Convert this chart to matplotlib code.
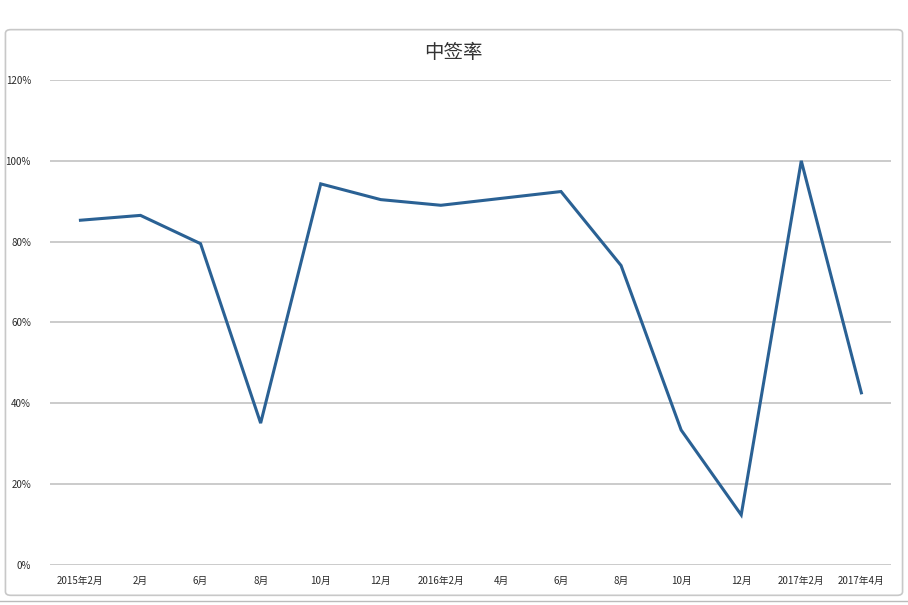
import matplotlib
matplotlib.use('agg')
import matplotlib.pyplot as plt
from matplotlib.patches import FancyBboxPatch
from matplotlib.ticker import PercentFormatter

plt.rcParams['font.family'] = ['Noto Sans CJK SC', 'DejaVu Sans']

# 数据
months = ['2015年2月', '2月', '6月', '8月', '10月', '12月', '2016年2月',
          '4月', '6月', '8月', '10月', '12月', '2017年2月', '2017年4月']
rate = [85.3, 86.5, 79.5, 35.1, 94.3, 90.4, 89.0,
        90.7, 92.4, 74.1, 33.4, 12.4, 100.0, 42.6]
y_ticks = [0, 20, 40, 60, 80, 100, 120]
title = '中签率'

fig = plt.figure(figsize=(9.08, 6.05), dpi=100)

# 外框
box = FancyBboxPatch((0.006, 0.016), 0.988, 0.935,
                     boxstyle='round,pad=0,rounding_size=0.006',
                     transform=fig.transFigure, fill=False,
                     edgecolor='#c8c8c8', linewidth=1.2)
fig.patches.append(box)
fig.add_artist(plt.Line2D([0.0, 1.0], [0.006, 0.006], transform=fig.transFigure,
                          color='#bbbbbb', linewidth=1))

ax = fig.add_axes([0.0555, 0.0661, 0.9262, 0.8017])
x = list(range(len(months)))
ax.plot(x, rate, color='#2a6194', linewidth=2.2, solid_joinstyle='miter')

ax.set_xlim(-0.5, len(months) - 0.5)
ax.set_ylim(0, 120)
ax.set_yticks(y_ticks)
ax.yaxis.set_major_formatter(PercentFormatter(decimals=0))
ax.set_xticks(x)
ax.set_xticklabels(months)
ax.grid(axis='y', color='#bdbdbd', linewidth=1.1)
ax.set_axisbelow(True)
for s in ax.spines.values():
    s.set_visible(False)
ax.tick_params(axis='both', length=0, labelsize=7, colors='#2a2a2a')
ax.tick_params(axis='x', pad=8)
ax.tick_params(axis='y', pad=14)

fig.text(0.499, 0.914, title, ha='center', va='center', fontsize=14, color='#333333')

plt.savefig('out.png', dpi=100)
